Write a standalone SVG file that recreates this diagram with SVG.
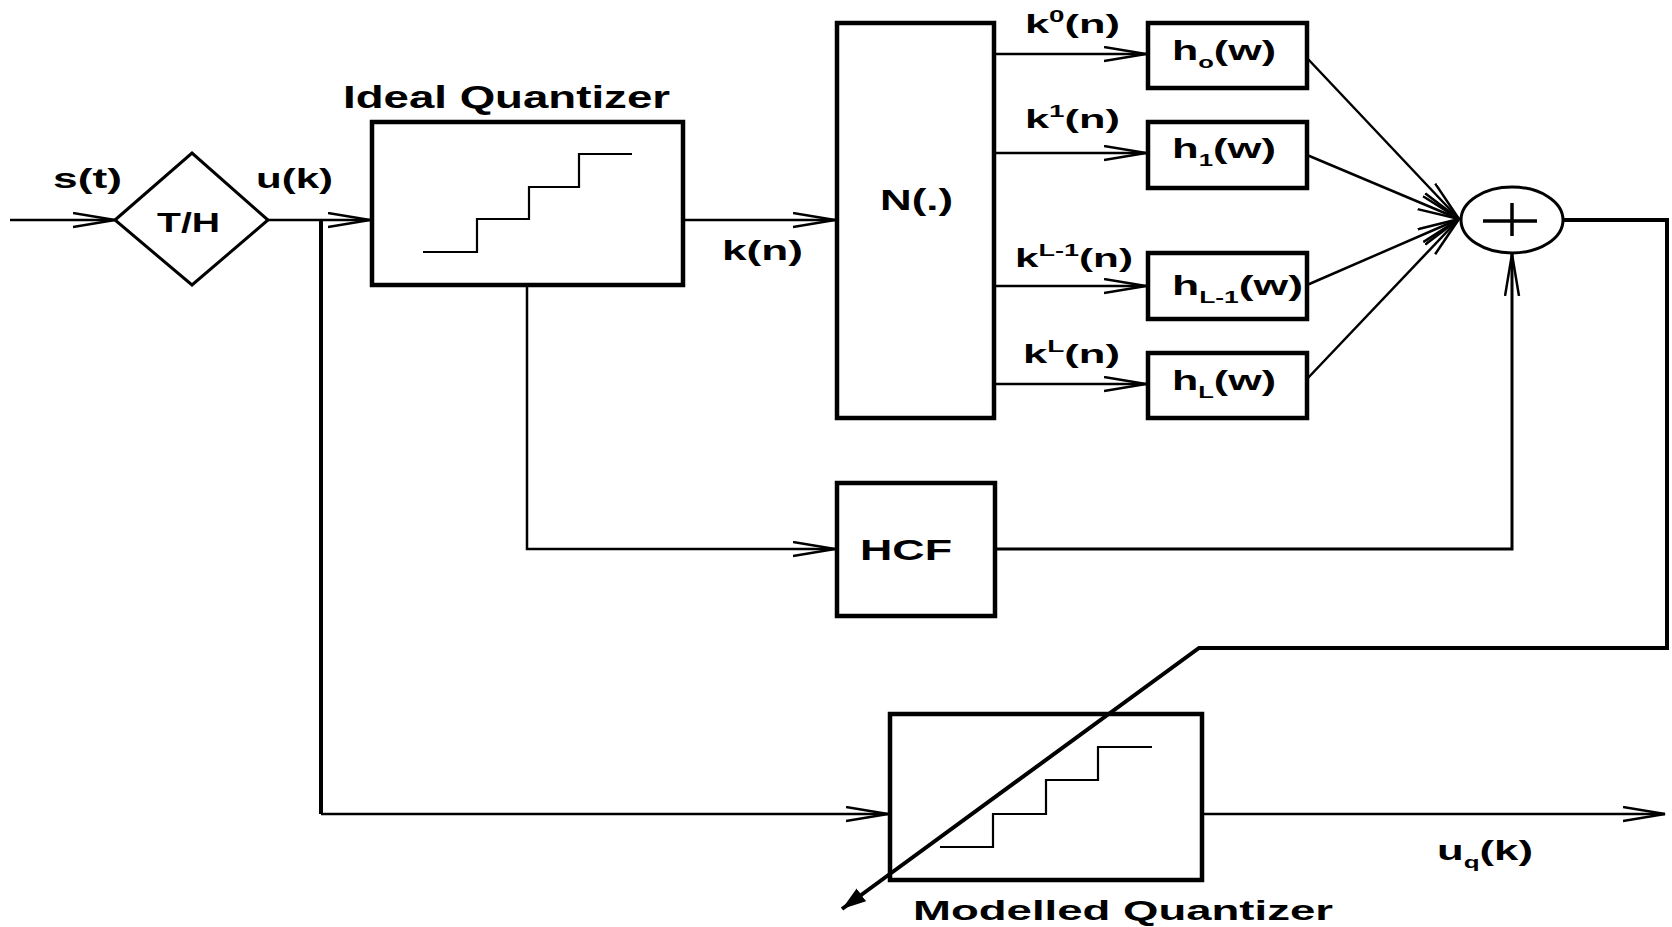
<svg xmlns="http://www.w3.org/2000/svg" width="1672" height="927" viewBox="0 0 1672 927">
<style>
.box{fill:none;stroke:#000;stroke-width:4.5}
.ln{fill:none;stroke:#000;stroke-width:2.5}
.thk{fill:none;stroke:#000;stroke-width:4}
.stair{fill:none;stroke:#000;stroke-width:2.2}
text{font-family:"Liberation Sans",Arial,sans-serif;font-weight:bold;fill:#000}
</style>
<defs>
<marker id="oa" markerUnits="userSpaceOnUse" markerWidth="48" markerHeight="20" refX="42" refY="8" orient="auto">
<path d="M0,1 L42,8 L0,15" fill="none" stroke="#000" stroke-width="2.5"/>
</marker>
<marker id="fa" markerUnits="userSpaceOnUse" markerWidth="30" markerHeight="24" refX="24" refY="10" orient="auto">
<path d="M0,2 L24,10 L0,18 Z" fill="#000"/>
</marker>
</defs>
<rect width="1672" height="927" fill="#fff"/>

<g id="connectors">
<line class="ln" x1="10" y1="220" x2="115" y2="220" marker-end="url(#oa)"/>
<line class="ln" x1="268" y1="220" x2="370" y2="220" marker-end="url(#oa)"/>
<polyline class="thk" points="321,220 321,814"/>
<line class="ln" x1="321" y1="814" x2="888" y2="814" marker-end="url(#oa)"/>
<line class="ln" x1="683" y1="220" x2="835" y2="220" marker-end="url(#oa)"/>
<polyline class="ln" points="527,285 527,549 835,549" marker-end="url(#oa)"/>
<line class="ln" x1="995" y1="54" x2="1146" y2="54" marker-end="url(#oa)"/>
<line class="ln" x1="995" y1="153" x2="1146" y2="153" marker-end="url(#oa)"/>
<line class="ln" x1="995" y1="286" x2="1146" y2="286" marker-end="url(#oa)"/>
<line class="ln" x1="995" y1="384" x2="1146" y2="384" marker-end="url(#oa)"/>
<line class="ln" x1="1307" y1="58" x2="1459" y2="219" marker-end="url(#oa)"/>
<line class="ln" x1="1307" y1="155" x2="1459" y2="219" marker-end="url(#oa)"/>
<line class="ln" x1="1307" y1="285" x2="1459" y2="219" marker-end="url(#oa)"/>
<line class="ln" x1="1307" y1="379" x2="1459" y2="219" marker-end="url(#oa)"/>
<polyline class="ln" points="995,549 1512,549 1512,254" marker-end="url(#oa)" style="stroke-width:3"/>
<polyline class="thk" points="1563,220 1667,220 1667,648 1199,648 842,909" marker-end="url(#fa)"/>
<line class="ln" x1="1202" y1="814" x2="1665" y2="814" marker-end="url(#oa)"/>
</g>

<g id="input-label"><text x="53" y="188" font-size="27" textLength="69" lengthAdjust="spacingAndGlyphs">s(t)</text></g>
<g id="uk-label"><text x="256" y="188" font-size="27" textLength="77" lengthAdjust="spacingAndGlyphs">u(k)</text></g>

<g id="th">
<polygon points="115,220 192,153 268,220 192,285" fill="none" stroke="#000" stroke-width="3"/>
<text x="157" y="232" font-size="28" textLength="63" lengthAdjust="spacingAndGlyphs">T/H</text>
</g>

<g id="ideal-quantizer">
<rect class="box" x="372" y="122" width="311" height="163"/>
<polyline class="stair" points="423,252 477,252 477,219 529,219 529,187 579,187 579,154 632,154"/>
<text x="343" y="108" font-size="32" textLength="327" lengthAdjust="spacingAndGlyphs">Ideal Quantizer</text>
</g>

<g id="kn-label"><text x="722" y="260" font-size="27" textLength="81" lengthAdjust="spacingAndGlyphs">k(n)</text></g>

<g id="N">
<rect class="box" x="837" y="23" width="157" height="395"/>
<text x="880" y="210" font-size="30" textLength="73" lengthAdjust="spacingAndGlyphs">N(.)</text>
</g>

<g id="k-labels">
<text x="1025" y="33" font-size="25" textLength="95" lengthAdjust="spacingAndGlyphs">k<tspan font-size="16" dy="-11">0</tspan><tspan dy="11">(n)</tspan></text>
<text x="1025" y="128" font-size="25" textLength="95" lengthAdjust="spacingAndGlyphs">k<tspan font-size="16" dy="-11">1</tspan><tspan dy="11">(n)</tspan></text>
<text x="1015" y="267" font-size="25" textLength="118" lengthAdjust="spacingAndGlyphs">k<tspan font-size="16" dy="-11">L-1</tspan><tspan dy="11">(n)</tspan></text>
<text x="1023" y="363" font-size="25" textLength="97" lengthAdjust="spacingAndGlyphs">k<tspan font-size="16" dy="-11">L</tspan><tspan dy="11">(n)</tspan></text>
</g>

<g id="h0">
<rect class="box" x="1148" y="23" width="159" height="65"/>
<text x="1172" y="60" font-size="27" textLength="104" lengthAdjust="spacingAndGlyphs">h<tspan font-size="16" dy="8">o</tspan><tspan dy="-8">(w)</tspan></text>
</g>
<g id="h1">
<rect class="box" x="1148" y="122" width="159" height="66"/>
<text x="1172" y="158" font-size="27" textLength="104" lengthAdjust="spacingAndGlyphs">h<tspan font-size="16" dy="8">1</tspan><tspan dy="-8">(w)</tspan></text>
</g>
<g id="hL-1">
<rect class="box" x="1148" y="253" width="159" height="66"/>
<text x="1172" y="295" font-size="27" textLength="131" lengthAdjust="spacingAndGlyphs">h<tspan font-size="16" dy="8">L-1</tspan><tspan dy="-8">(w)</tspan></text>
</g>
<g id="hL">
<rect class="box" x="1148" y="353" width="159" height="65"/>
<text x="1172" y="390" font-size="27" textLength="104" lengthAdjust="spacingAndGlyphs">h<tspan font-size="16" dy="8">L</tspan><tspan dy="-8">(w)</tspan></text>
</g>

<g id="sum">
<ellipse cx="1512" cy="220" rx="51" ry="33" fill="none" stroke="#000" stroke-width="3"/>
<line x1="1483" y1="221" x2="1537" y2="221" stroke="#000" stroke-width="3.5"/>
<line x1="1512" y1="203" x2="1512" y2="236" stroke="#000" stroke-width="3.5"/>
</g>

<g id="HCF">
<rect class="box" x="837" y="483" width="158" height="133"/>
<text x="860" y="560" font-size="30" textLength="92" lengthAdjust="spacingAndGlyphs">HCF</text>
</g>

<g id="modelled-quantizer">
<rect class="box" x="890" y="714" width="312" height="166"/>
<polyline class="stair" points="940,847 993,847 993,814 1046,814 1046,780 1098,780 1098,747 1152,747"/>
<text x="913" y="920" font-size="28" textLength="420" lengthAdjust="spacingAndGlyphs">Modelled Quantizer</text>
</g>

<g id="uq-label"><text x="1437" y="860" font-size="27" textLength="96" lengthAdjust="spacingAndGlyphs">u<tspan font-size="16" dy="8">q</tspan><tspan dy="-8">(k)</tspan></text></g>
</svg>
